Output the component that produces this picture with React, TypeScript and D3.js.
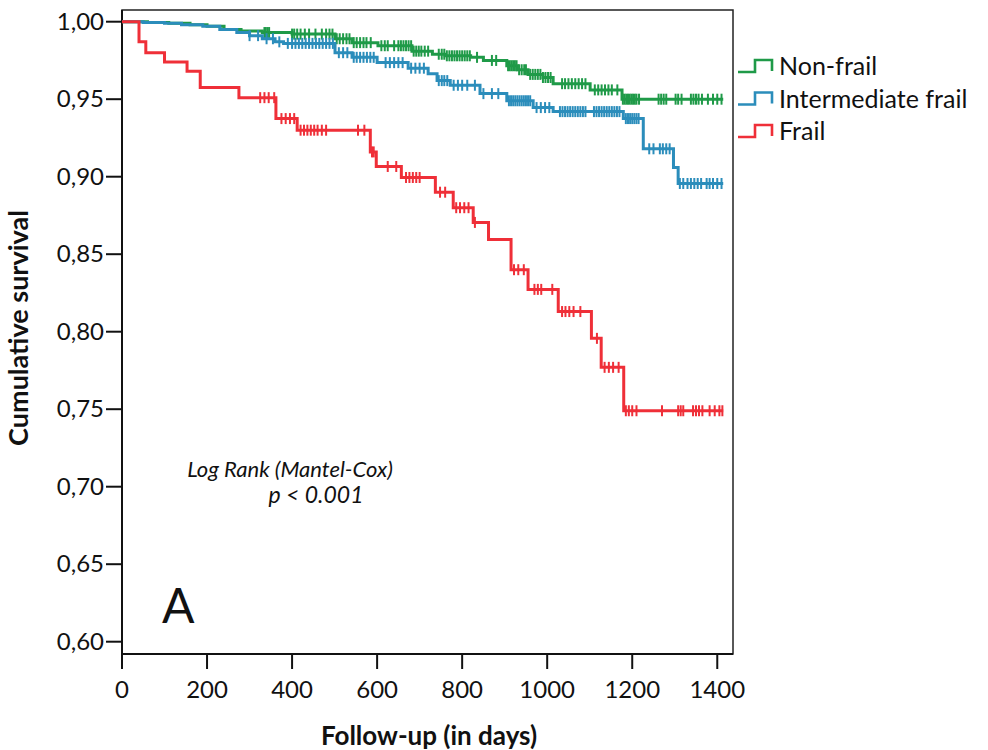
import React from 'react';
import * as d3 from 'd3';

// Kaplan-Meier steps: event day -> survival after that day
const nonFrailDays = [0, 60, 110, 160, 200, 240, 280, 330, 400, 501, 541, 602, 682, 730, 760, 820, 850, 905, 930, 955, 990, 1014, 1101, 1176];
const nonFrailSurv = [1.0, 0.9995, 0.999, 0.998, 0.997, 0.995, 0.994, 0.993, 0.992, 0.989, 0.9865, 0.9845, 0.981, 0.979, 0.978, 0.977, 0.975, 0.9716, 0.969, 0.966, 0.964, 0.960, 0.956, 0.950];
const nonFrailCensored = [335, 338, 342, 346, 400, 405, 412, 420, 430, 440, 455, 470, 480, 488, 495, 505, 512, 520, 528, 535, 545, 552, 560, 568, 575, 585, 610, 618, 625, 640, 650, 656, 662, 668, 674, 680, 686, 692, 698, 704, 712, 720, 745, 752, 758, 764, 770, 776, 782, 788, 794, 800, 806, 812, 818, 835, 870, 880, 908, 912, 916, 920, 924, 928, 934, 940, 946, 950, 960, 966, 972, 978, 984, 990, 996, 1002, 1008, 1035, 1042, 1050, 1058, 1066, 1074, 1082, 1090, 1112, 1120, 1128, 1136, 1144, 1152, 1165, 1178, 1182, 1186, 1190, 1194, 1198, 1202, 1206, 1210, 1216, 1262, 1268, 1274, 1280, 1302, 1308, 1316, 1338, 1344, 1350, 1356, 1364, 1378, 1390, 1400, 1410];

const interDays = [0, 50, 100, 140, 190, 230, 270, 300, 330, 360, 380, 501, 541, 600, 673, 720, 741, 772, 842, 905, 967, 1014, 1179, 1226, 1297, 1308];
const interSurv = [1.0, 0.9995, 0.999, 0.998, 0.997, 0.995, 0.993, 0.991, 0.989, 0.987, 0.986, 0.980, 0.977, 0.9736, 0.970, 0.9665, 0.962, 0.959, 0.9536, 0.949, 0.9446, 0.942, 0.9375, 0.918, 0.906, 0.8956];
const interCensored = [300, 320, 340, 355, 370, 390, 400, 408, 416, 424, 432, 440, 448, 456, 464, 472, 480, 488, 496, 510, 520, 530, 545, 552, 560, 568, 576, 584, 592, 620, 630, 640, 650, 660, 680, 690, 700, 710, 745, 752, 758, 765, 780, 790, 800, 812, 830, 850, 870, 885, 910, 915, 920, 925, 930, 935, 940, 945, 950, 955, 960, 975, 985, 995, 1005, 1030, 1036, 1042, 1048, 1054, 1060, 1066, 1072, 1078, 1084, 1090, 1110, 1116, 1122, 1128, 1134, 1140, 1146, 1152, 1158, 1164, 1170, 1185, 1190, 1195, 1200, 1205, 1210, 1215, 1240, 1250, 1265, 1272, 1280, 1288, 1312, 1320, 1330, 1338, 1346, 1354, 1362, 1375, 1382, 1390, 1400, 1410];

const frailDays = [0, 40, 56, 100, 153, 184, 275, 362, 412, 584, 598, 657, 737, 779, 826, 862, 915, 955, 1026, 1104, 1127, 1180];
const frailSurv = [1.0, 0.987, 0.980, 0.974, 0.968, 0.9575, 0.951, 0.9375, 0.930, 0.916, 0.9066, 0.8995, 0.890, 0.880, 0.8705, 0.8595, 0.840, 0.8273, 0.813, 0.7957, 0.777, 0.749];
const frailCensored = [325, 335, 345, 358, 375, 385, 395, 405, 420, 428, 436, 444, 452, 460, 470, 480, 555, 570, 588, 592, 625, 645, 668, 676, 684, 692, 700, 748, 760, 786, 795, 805, 815, 830, 922, 932, 945, 970, 978, 986, 1012, 1035, 1043, 1052, 1062, 1078, 1117, 1135, 1145, 1155, 1168, 1185, 1192, 1200, 1210, 1270, 1308, 1314, 1320, 1343, 1350, 1357, 1365, 1382, 1394, 1405, 1412];

const lastDay = 1414;

const groups = [
  { name: 'Non-frail', color: '#1f9a48', days: nonFrailDays, surv: nonFrailSurv, censored: nonFrailCensored },
  { name: 'Intermediate frail', color: '#2b8dbb', days: interDays, surv: interSurv, censored: interCensored },
  { name: 'Frail', color: '#ef2f38', days: frailDays, surv: frailSurv, censored: frailCensored },
];

const xTicks = [0, 200, 400, 600, 800, 1000, 1200, 1400];
const yTicks = [0.6, 0.65, 0.7, 0.75, 0.8, 0.85, 0.9, 0.95, 1.0];

const font = "Lato, 'Liberation Sans', sans-serif";

const App = () => {
  const left = 122, right = 733, top = 10, bottom = 654;

  const x = d3.scaleLinear().domain([0, 1437]).range([left, right]);
  const y = d3.scaleLinear().domain([0.6, 1.0]).range([641.7, 21.7]);

  const line = d3.line<[number, number]>()
    .x(d => x(d[0]))
    .y(d => y(d[1]))
    .curve(d3.curveStepAfter);

  const survAt = (days: number[], surv: number[], t: number) => {
    const i = d3.bisectRight(days, t) - 1;
    return surv[Math.max(0, i)];
  };

  return (
    <svg width={988} height={750} style={{ position: 'absolute', left: 0, top: 0, background: '#fff' }} fontFamily={font}>
      {/* frame */}
      <rect x={left} y={top} width={right - left} height={bottom - top} fill="none" stroke="#222" strokeWidth={1.5} />
      <line x1={left} x2={left} y1={top} y2={bottom} stroke="#111" strokeWidth={2} />
      <line x1={left} x2={right} y1={bottom} y2={bottom} stroke="#111" strokeWidth={2} />

      {/* y axis */}
      {yTicks.map(v => (
        <g key={v}>
          <line x1={left - 16} x2={left} y1={y(v)} y2={y(v)} stroke="#111" strokeWidth={2} />
          <text x={left - 18} y={y(v) + 8} textAnchor="end" fontSize={24} fill="#111">
            {v.toFixed(2).replace('.', ',')}
          </text>
        </g>
      ))}

      {/* x axis */}
      {xTicks.map(v => (
        <g key={v}>
          <line x1={x(v)} x2={x(v)} y1={bottom} y2={bottom + 15} stroke="#111" strokeWidth={2} />
          <text x={x(v)} y={698} textAnchor="middle" fontSize={24} fill="#111">{v}</text>
        </g>
      ))}

      <text x={429} y={745} textAnchor="middle" fontSize={26} fontWeight="bold" fill="#111">Follow-up (in days)</text>
      <text transform="translate(28,328) rotate(-90)" textAnchor="middle" fontSize={27} fontWeight="bold" fill="#111">Cumulative survival</text>

      {/* curves */}
      {groups.map(g => {
        const pts: [number, number][] = g.days.map((d, i) => [d, g.surv[i]] as [number, number]);
        pts.push([lastDay, g.surv[g.surv.length - 1]]);
        return (
          <g key={g.name}>
            <path d={line(pts) || ''} fill="none" stroke={g.color} strokeWidth={3} />
            {g.censored.map((t, i) => {
              const cy = y(survAt(g.days, g.surv, t));
              return <line key={i} x1={x(t)} x2={x(t)} y1={cy - 5.5} y2={cy + 5.5} stroke={g.color} strokeWidth={2} />;
            })}
          </g>
        );
      })}

      {/* legend */}
      {groups.map((g, i) => {
        const cy = 66 + i * 32.5;
        return (
          <g key={g.name}>
            <path d={`M738,${cy + 6} H755 V${cy - 6} H772 V${cy + 5}`} fill="none" stroke={g.color} strokeWidth={2.6} />
            <text x={779} y={cy + 9} fontSize={25} fill="#111">{g.name}</text>
          </g>
        );
      })}

      {/* annotations */}
      <text x={290} y={477} textAnchor="middle" fontSize={22} fontStyle="italic" fill="#111">Log Rank (Mantel-Cox)</text>
      <text x={316} y={503} textAnchor="middle" fontSize={23} fontStyle="italic" fill="#111">p &lt; 0.001</text>
      <text x={162} y={623} fontSize={48} fill="#111">A</text>
    </svg>
  );
};

export default App;
